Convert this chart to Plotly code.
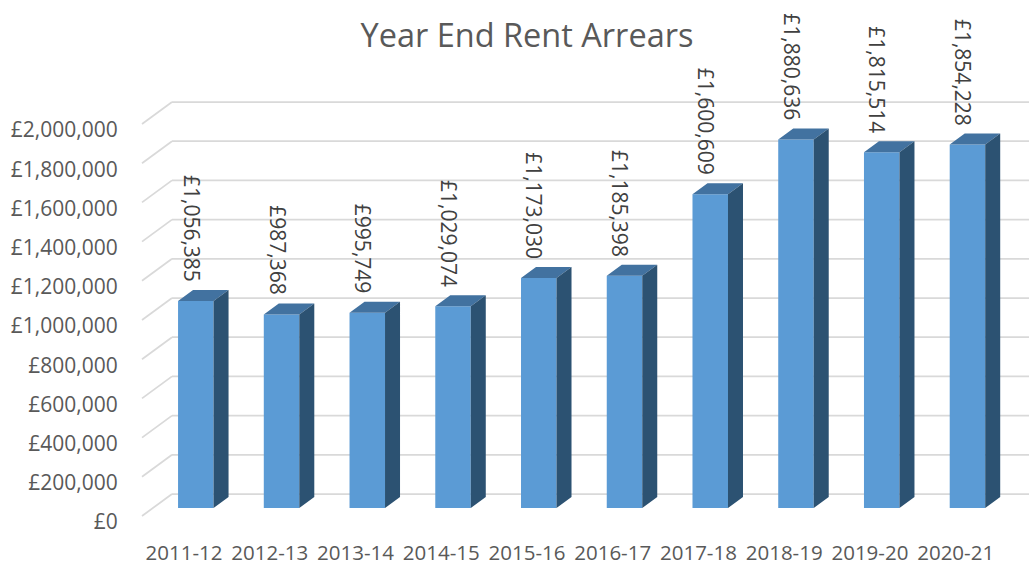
import plotly.graph_objects as go

categories = ["2011-12", "2012-13", "2013-14", "2014-15", "2015-16",
              "2016-17", "2017-18", "2018-19", "2019-20", "2020-21"]
arrears = [1056385, 987368, 995749, 1029074, 1173030,
           1185398, 1600609, 1880636, 1815514, 1854228]
value_ticks = [0, 200000, 400000, 600000, 800000, 1000000,
               1200000, 1400000, 1600000, 1800000, 2000000]
title_text = "Year End Rent Arrears"

W, H = 1032, 570
L, B = 125, 40
PX_PER_CAT = 85.74
FIRST_CENTER = 195.8
ZERO_PX = 508
UNIT = 200000 / 39.2      # value per pixel
CAT = 1 / PX_PER_CAT      # category units per pixel

FONT = "Open Sans"
TXT = "#595959"
FRONT, TOP, SIDE = "#5B9BD5", "#4272A0", "#2C5272"
GRID = "#D9D9D9"

bar_w = 35.5 * CAT
dx, dy = 15 * CAT, 11 * UNIT
xs = list(range(len(categories)))


def px_x(px):
    return (px - FIRST_CENTER) * CAT


fig = go.Figure()
fig.add_trace(go.Bar(x=xs, y=arrears, width=bar_w, marker=dict(color=FRONT, line=dict(width=0)),
                     hoverinfo="skip", showlegend=False))

tx, ty, sx, sy = [], [], [], []
for i, v in zip(xs, arrears):
    l, r = i - bar_w / 2, i + bar_w / 2
    tx += [l, r, r + dx, l + dx, l, None]
    ty += [v, v, v + dy, v + dy, v, None]
    sx += [r, r + dx, r + dx, r, r, None]
    sy += [0, dy, v + dy, v, 0, None]
fig.add_trace(go.Scatter(x=tx, y=ty, fill="toself", fillcolor=TOP, mode="none",
                         hoverinfo="skip", showlegend=False))
fig.add_trace(go.Scatter(x=sx, y=sy, fill="toself", fillcolor=SIDE, mode="none",
                         hoverinfo="skip", showlegend=False))

shapes = []
for t in value_ticks:
    back = t + 14 * UNIT
    front = t - 8 * UNIT
    grid_line = dict(color=GRID, width=1.75)
    shapes.append(dict(type="line", layer="below", xref="x", yref="y", x0=px_x(142), y0=front,
                       x1=px_x(172), y1=back, line=grid_line))
    shapes.append(dict(type="line", layer="below", xref="x", yref="y", x0=px_x(172), y0=back,
                       x1=px_x(1029), y1=back, line=grid_line))

annotations = [dict(x=i - 4.3 * CAT, y=v, yshift=17, text=f"£{v:,}", textangle=90, showarrow=False,
                    xanchor="center", yanchor="bottom", font=dict(family=FONT, size=21, color="#404040"))
               for i, v in zip(xs, arrears)]

fig.update_layout(
    width=W, height=H, margin=dict(l=L, r=0, t=0, b=B, autoexpand=False),
    paper_bgcolor="white", plot_bgcolor="white", showlegend=False,
    shapes=shapes, annotations=annotations,
    title=dict(text=title_text, x=527 / W, xanchor="center", y=1 - 36 / H, yanchor="middle",
               font=dict(family=FONT, size=32.5, color=TXT)),
    xaxis=dict(range=[px_x(L), px_x(W)], tickmode="array",
               tickvals=[i - 11.8 * CAT for i in xs], ticktext=categories,
               showgrid=False, zeroline=False, showline=False, ticks="outside", ticklen=4,
               tickcolor="rgba(0,0,0,0)", tickangle=0,
               tickfont=dict(family=FONT, size=20.5, color=TXT)),
    yaxis=dict(range=[-(H - B - ZERO_PX) * UNIT, ZERO_PX * UNIT], tickmode="array",
               tickvals=[t - 14 * UNIT for t in value_ticks], ticktext=[f"£{t:,}" for t in value_ticks],
               showgrid=False, zeroline=False, showline=False, ticks="outside", ticklen=2,
               tickcolor="rgba(0,0,0,0)",
               tickfont=dict(family=FONT, size=21, color=TXT)),
)

fig.write_html("out.html", config=dict(displayModeBar=False),
               post_script="document.body.style.margin='0';")
